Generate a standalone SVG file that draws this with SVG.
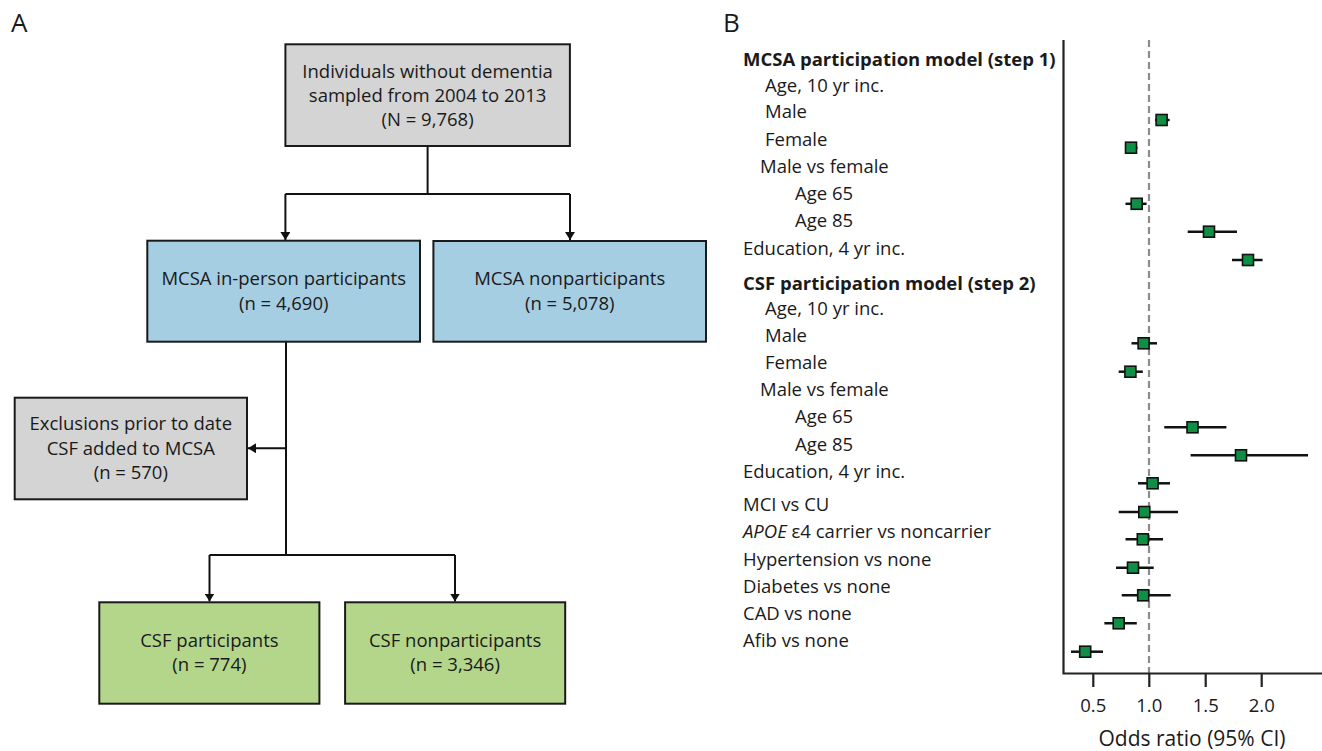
<svg xmlns="http://www.w3.org/2000/svg" width="1322" height="751" viewBox="0 0 1322 751">
<style>
text{font-family:"Open Sans","Noto Sans","DejaVu Sans",sans-serif;fill:#1a1a1a;font-size:18.5px}
.c{text-anchor:middle}
.pl{font-size:26px}
.hd{font-weight:bold}
.at{font-size:21px}
.box{stroke:#1a1a1a;stroke-width:2}
.gray{fill:#d4d4d4}
.blue{fill:#a6cee3}
.green{fill:#b4d68b}
.ln{fill:none;stroke:#111;stroke-width:2}
.ci{stroke:#111;stroke-width:2.5}
.pt{fill:#0e8f45;stroke:#111;stroke-width:1.6}
.ax{stroke:#222;stroke-width:2.2;fill:none}
.ref{stroke:#8c8c8c;stroke-width:2.2;stroke-dasharray:7 4}
</style>
<defs>
<marker id="ah" markerUnits="userSpaceOnUse" markerWidth="10" markerHeight="10" refX="8" refY="5" orient="auto">
<path d="M0,0 L8,5 L0,10 z" fill="#111"/>
</marker>
</defs>
<rect width="1322" height="751" fill="#fff"/>
<text class="pl" x="11" y="32">A</text>
<text class="pl" x="723" y="32">B</text>

<g id="connectors">
<path class="ln" d="M427.6,146 V194"/>
<path class="ln" d="M285.4,194 H570"/>
<path class="ln" d="M285.4,194 V240" marker-end="url(#ah)"/>
<path class="ln" d="M570,194 V240" marker-end="url(#ah)"/>
<path class="ln" d="M286,342 V555"/>
<path class="ln" d="M286,448.3 H248" marker-end="url(#ah)"/>
<path class="ln" d="M209.5,555 H455"/>
<path class="ln" d="M209.5,555 V601.5" marker-end="url(#ah)"/>
<path class="ln" d="M455,555 V601.5" marker-end="url(#ah)"/>
</g>

<g id="node-sampled">
<rect class="box gray" x="285.4" y="44.3" width="284.5" height="101.7"/>
<text class="c" x="427.6" y="77.5">Individuals without dementia</text>
<text class="c" x="427.6" y="101.5">sampled from 2004 to 2013</text>
<text class="c" x="427.6" y="125.5">(N = 9,768)</text>
</g>
<g id="node-mcsa-participants">
<rect class="box blue" x="147.3" y="240.7" width="272.7" height="101"/>
<text class="c" x="283.7" y="285">MCSA in-person participants</text>
<text class="c" x="283.7" y="310">(n = 4,690)</text>
</g>
<g id="node-mcsa-nonparticipants">
<rect class="box blue" x="433.4" y="241" width="272.6" height="100.7"/>
<text class="c" x="569.7" y="285">MCSA nonparticipants</text>
<text class="c" x="569.7" y="310">(n = 5,078)</text>
</g>
<g id="node-exclusions">
<rect class="box gray" x="14.7" y="397.7" width="232.3" height="101.6"/>
<text class="c" x="130.8" y="430">Exclusions prior to date</text>
<text class="c" x="130.8" y="454.5">CSF added to MCSA</text>
<text class="c" x="130.8" y="479">(n = 570)</text>
</g>
<g id="node-csf-participants">
<rect class="box green" x="99.3" y="602.3" width="220.1" height="101.4"/>
<text class="c" x="209.4" y="646.5">CSF participants</text>
<text class="c" x="209.4" y="671">(n = 774)</text>
</g>
<g id="node-csf-nonparticipants">
<rect class="box green" x="345.1" y="602.3" width="220.1" height="101.4"/>
<text class="c" x="455.1" y="646.5">CSF nonparticipants</text>
<text class="c" x="455.1" y="671">(n = 3,346)</text>
</g>

<g id="forest-labels">
<text class="hd" x="743" y="66">MCSA participation model (step 1)</text>
<text x="765" y="91.5">Age, 10 yr inc.</text>
<text x="765" y="118">Male</text>
<text x="765" y="146">Female</text>
<text x="760" y="173">Male vs female</text>
<text x="795" y="200">Age 65</text>
<text x="795" y="227">Age 85</text>
<text x="743" y="255">Education, 4 yr inc.</text>
<text class="hd" x="743" y="290">CSF participation model (step 2)</text>
<text x="765" y="315">Age, 10 yr inc.</text>
<text x="765" y="341.5">Male</text>
<text x="765" y="369">Female</text>
<text x="760" y="396">Male vs female</text>
<text x="795" y="423">Age 65</text>
<text x="795" y="450.5">Age 85</text>
<text x="743" y="478">Education, 4 yr inc.</text>
<text x="743" y="510.5">MCI vs CU</text>
<text x="743" y="538"><tspan font-style="italic">APOE</tspan> ε4 carrier vs noncarrier</text>
<text x="743" y="566">Hypertension vs none</text>
<text x="743" y="593">Diabetes vs none</text>
<text x="743" y="620">CAD vs none</text>
<text x="743" y="647">Afib vs none</text>
</g>

<g id="forest-axes">
<line class="ref" x1="1149" y1="40" x2="1149" y2="673"/>
<path class="ax" d="M1063.5,40 V673.5 H1322"/>
<path class="ax" d="M1093.3,673.5 V687 M1149.3,673.5 V687 M1205.7,673.5 V687 M1261.7,673.5 V687"/>
<text class="c" x="1093.3" y="712">0.5</text>
<text class="c" x="1149.3" y="712">1.0</text>
<text class="c" x="1205.7" y="712">1.5</text>
<text class="c" x="1261.7" y="712">2.0</text>
<text class="c at" x="1192" y="746">Odds ratio (95% CI)</text>
</g>

<g id="forest-points">
<line class="ci" x1="1155" y1="120" x2="1169.6" y2="120"/><rect class="pt" x="1156.1" y="114.5" width="11" height="11"/>
<line class="ci" x1="1125.5" y1="147.7" x2="1137.5" y2="147.7"/><rect class="pt" x="1125.5" y="142.2" width="11" height="11"/>
<line class="ci" x1="1125.5" y1="203.8" x2="1146.6" y2="203.8"/><rect class="pt" x="1131.2" y="198.3" width="11" height="11"/>
<line class="ci" x1="1187.7" y1="231.7" x2="1237" y2="231.7"/><rect class="pt" x="1203.5" y="226.2" width="11" height="11"/>
<line class="ci" x1="1232" y1="260" x2="1262.6" y2="260"/><rect class="pt" x="1242.5" y="254.5" width="11" height="11"/>
<line class="ci" x1="1131.5" y1="343.3" x2="1157" y2="343.3"/><rect class="pt" x="1138.1" y="337.8" width="11" height="11"/>
<line class="ci" x1="1118.7" y1="371.7" x2="1142.8" y2="371.7"/><rect class="pt" x="1124.9" y="366.2" width="11" height="11"/>
<line class="ci" x1="1164.3" y1="427.3" x2="1226.4" y2="427.3"/><rect class="pt" x="1187" y="421.8" width="11" height="11"/>
<line class="ci" x1="1190.6" y1="455.3" x2="1308" y2="455.3"/><rect class="pt" x="1235.5" y="449.8" width="11" height="11"/>
<line class="ci" x1="1138" y1="483.3" x2="1170" y2="483.3"/><rect class="pt" x="1147.1" y="477.8" width="11" height="11"/>
<line class="ci" x1="1118.7" y1="512" x2="1178" y2="512"/><rect class="pt" x="1138.8" y="506.5" width="11" height="11"/>
<line class="ci" x1="1125.5" y1="539.3" x2="1163" y2="539.3"/><rect class="pt" x="1137.3" y="533.8" width="11" height="11"/>
<line class="ci" x1="1116" y1="567.7" x2="1153.7" y2="567.7"/><rect class="pt" x="1127.5" y="562.2" width="11" height="11"/>
<line class="ci" x1="1121.7" y1="595.3" x2="1170.7" y2="595.3"/><rect class="pt" x="1137.7" y="589.8" width="11" height="11"/>
<line class="ci" x1="1104.4" y1="623.3" x2="1136.8" y2="623.3"/><rect class="pt" x="1113.2" y="617.8" width="11" height="11"/>
<line class="ci" x1="1071" y1="651.7" x2="1103" y2="651.7"/><rect class="pt" x="1079.7" y="646.2" width="11" height="11"/>
</g>
</svg>
